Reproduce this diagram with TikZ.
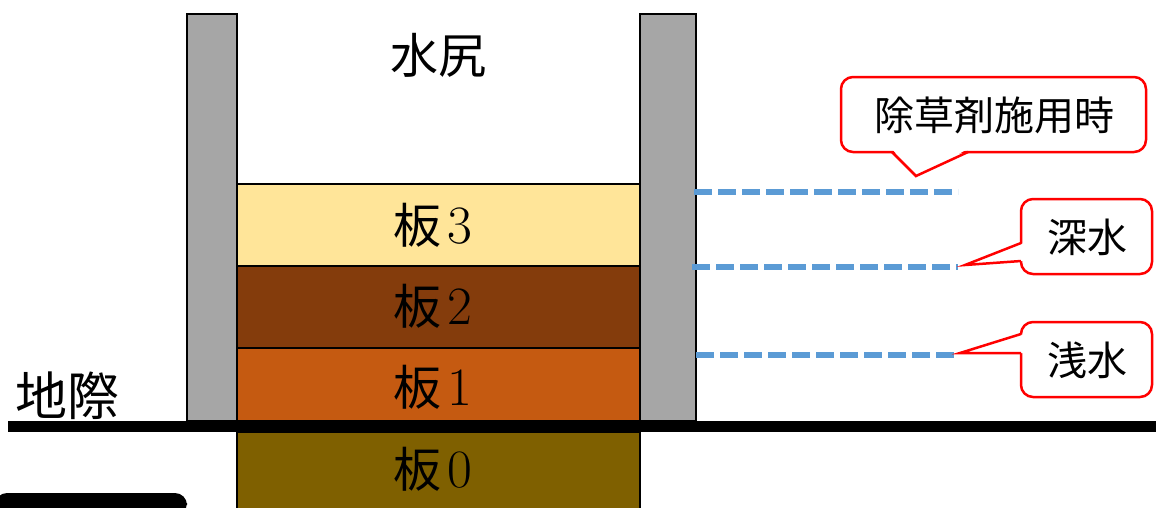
\documentclass[tikz,border=0pt]{standalone}
\usepackage{fontspec}
\newfontfamily\cjk{Noto Sans CJK JP}
\definecolor{postgray}{HTML}{A6A6A6}
\definecolor{bthree}{HTML}{FFE599}
\definecolor{btwo}{HTML}{843C0C}
\definecolor{bone}{HTML}{C55A11}
\definecolor{bzero}{HTML}{7F6000}
\definecolor{dashblue}{HTML}{5B9BD5}
\definecolor{calloutred}{HTML}{FF0000}
\tikzset{
  post/.style={fill=postgray, draw=black, line width=2.5pt},
  board/.style={draw=black, line width=2.5pt},
  level/.style={draw=dashblue, line width=6pt, dash pattern=on 17.5pt off 6.5pt},
  callbox/.style={draw=calloutred, line width=2.5pt, fill=white, rounded corners=12pt},
  callptr/.style={draw=calloutred, line width=2.5pt, line join=miter},
  serifbig/.style={font=\cjk\fontsize{48}{48}\selectfont, inner sep=0pt},
  calltext/.style={font=\cjk\fontsize{40}{40}\selectfont, inner sep=0pt},
}
\newcommand{\boardlabel}[1]{{\cjk 板}\hspace{6pt}{\fontspec{Latin Modern Roman}\fontsize{54}{54}\selectfont #1}}
\begin{document}
\begin{tikzpicture}[x=1pt,y=-1pt]
\useasboundingbox (0,0) rectangle (1156,507);
% boards
\draw[board, fill=bthree] (237,184) rectangle (640,266);
\draw[board, fill=btwo] (237,266) rectangle (640,348);
\draw[board, fill=bone] (237,348) rectangle (640,421);
\draw[board, fill=bzero] (237,432) rectangle (640,512);
% posts
\draw[post] (187,14) rectangle (237,421);
\draw[post] (640,14) rectangle (696,421);
% ground line
\fill[black] (8,421) rectangle (1160,432);
% bottom-left black shape
\fill[black, rounded corners=12pt] (-5,493) -- (187,493) -- (187,515) -- (-5,515) -- cycle;
% labels
\node[serifbig] (shiri) at (438,55) {水尻};
\node[serifbig] (b3) at (433,225) {\boardlabel{3}};
\node[serifbig] (b2) at (433,306) {\boardlabel{2}};
\node[serifbig] (b1) at (433,387) {\boardlabel{1}};
\node[serifbig] (b0) at (433,469) {\boardlabel{0}};
\node[serifbig, font=\cjk\fontsize{52}{52}\selectfont] (jigiwa) at (67,396) {地際};
% water level lines
\coordinate (l1s) at (694,192); \coordinate (l1e) at (958,192);
\coordinate (l2s) at (692,267); \coordinate (l2e) at (958,267);
\coordinate (l3s) at (696,355); \coordinate (l3e) at (958,355);
\draw[level] (l1s) -- (l1e);
\draw[level] (l2s) -- (l2e);
\draw[level] (l3s) -- (l3e);
% callout 1
\draw[callbox] (841,77) rectangle (1146,152);
\fill[white] (892,149) -- (916,176) -- (968,149) -- cycle;
\draw[callptr] (892,152) -- (916,176) -- (968,152);
\node[calltext] (c1) at (994,115) {除草剤施用時};
% callout 2
\draw[callbox] (1021,199) rectangle (1152,274);
\fill[white] (1024,243) -- (965,265) -- (1024,261) -- cycle;
\draw[callptr] (1021,243) -- (965,265) -- (1021,261);
\node[calltext] (c2) at (1087,237) {深水};
% callout 3
\draw[callbox] (1021,322) rectangle (1152,397);
\fill[white] (1024,334) -- (960,353) -- (1024,353) -- cycle;
\draw[callptr] (1021,334) -- (960,353) -- (1021,353);
\node[calltext] (c3) at (1087,360) {浅水};
\end{tikzpicture}
\end{document}
